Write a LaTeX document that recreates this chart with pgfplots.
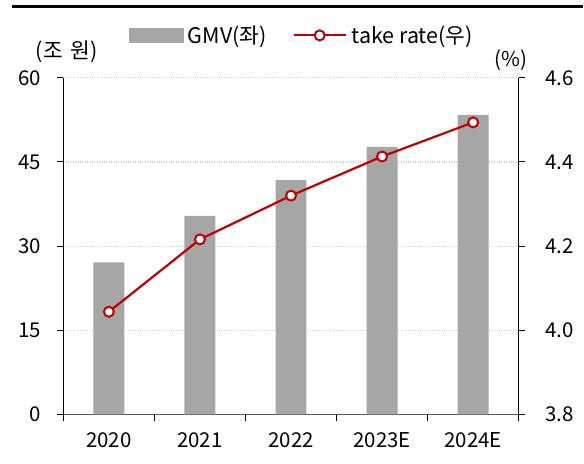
\documentclass[border=0pt]{standalone}
\usepackage{pgfplots}
\pgfplotsset{compat=1.18}
\usepackage{fontspec}
\setmainfont{Noto Sans CJK KR}
\definecolor{barc}{HTML}{A6A6A6}
\definecolor{linec}{HTML}{C00000}
\definecolor{gridc}{HTML}{D0D0D0}
\definecolor{baseax}{HTML}{595959}
\newcommand{\fs}{\fontsize{20.5}{24}\selectfont}
\newcommand{\fl}{\fontsize{21.5}{25}\selectfont}
\pgfplotsset{mylegline/.style={legend image code/.code={\draw[mark repeat=2,mark phase=2,##1] plot coordinates {(0pt,0pt)(26pt,0pt)(52pt,0pt)};}}}
\begin{document}
\begin{tikzpicture}[x=1pt,y=1pt]
\path (0,0) rectangle (584,465);
\draw[black, line width=3pt] (12,458.5) -- (584,458.5);
\node[font=\fl] at (67,413) {(조\hspace{8pt}원)};
\node[font=\fs] at (512,405) {(\%)};
\begin{axis}[
  at={(63.5pt,49.5pt)}, anchor=south west,
  scale only axis, width=456.5pt, height=337.5pt,
  xmin=-0.5, xmax=4.5, ymin=0, ymax=60,
  axis y line*=left, axis x line*=bottom,
  ytick={0,15,30,45,60},
  xtick={0,1,2,3,4},
  xticklabels={2020,2021,2022,2023E,2024E},
  minor xtick={-0.5,0.5,1.5,2.5,3.5,4.5},
  major x tick style={draw=none},
  minor tick length=7pt,
  major tick length=6pt,
  tick align=outside,
  tick style={black, line width=1pt},
  ymajorgrids, grid style={gridc, dotted, line width=1.2pt},
  y axis line style={black, line width=1.2pt},
  x axis line style={baseax, line width=1.6pt},
  ticklabel style={font=\fs},
  /pgf/number format/assume math mode=true,
  yticklabel style={xshift=-13pt},
  xticklabel style={yshift=-9pt},
]
\addplot[ybar, bar width=31pt, fill=barc, draw=none] coordinates {
  (0,27.1) (1,35.4) (2,41.8) (3,47.7) (4,53.4)};
\end{axis}
\begin{axis}[
  at={(63.5pt,49.5pt)}, anchor=south west,
  scale only axis, width=456.5pt, height=337.5pt,
  xmin=-0.5, xmax=4.5, ymin=3.8, ymax=4.6,
  axis y line*=right, axis x line=none,
  ytick={3.8,4.0,4.2,4.4,4.6},
  yticklabel={\pgfmathprintnumber[fixed,fixed zerofill,precision=1]{\tick}},
  major tick length=6pt,
  tick align=outside,
  tick style={black, line width=1pt},
  y axis line style={black, line width=1.2pt},
  ticklabel style={font=\fs},
  /pgf/number format/assume math mode=true,
  yticklabel style={xshift=17pt},
  clip=false,
  legend style={at={(0.5236,1.126)}, anchor=center, draw=none, fill=none,
    font=\fl, legend columns=2,
    /tikz/every even column/.append style={column sep=24pt},
    inner sep=0pt},
]
\addlegendimage{legend image code/.code={\fill[barc] (0pt,-7pt) rectangle (54pt,7pt);}}
\addlegendentry{\hspace{3pt}GMV(좌)}
\addplot[linec, line width=2.2pt, mark=*, mark size=5pt,
  mark options={fill=white, draw=linec, line width=2pt}, mylegline]
  coordinates {(0,4.044) (1,4.216) (2,4.320) (3,4.413) (4,4.494)};
\addlegendentry{\hspace{3pt}take rate(우)}
\end{axis}
\end{tikzpicture}
\end{document}
